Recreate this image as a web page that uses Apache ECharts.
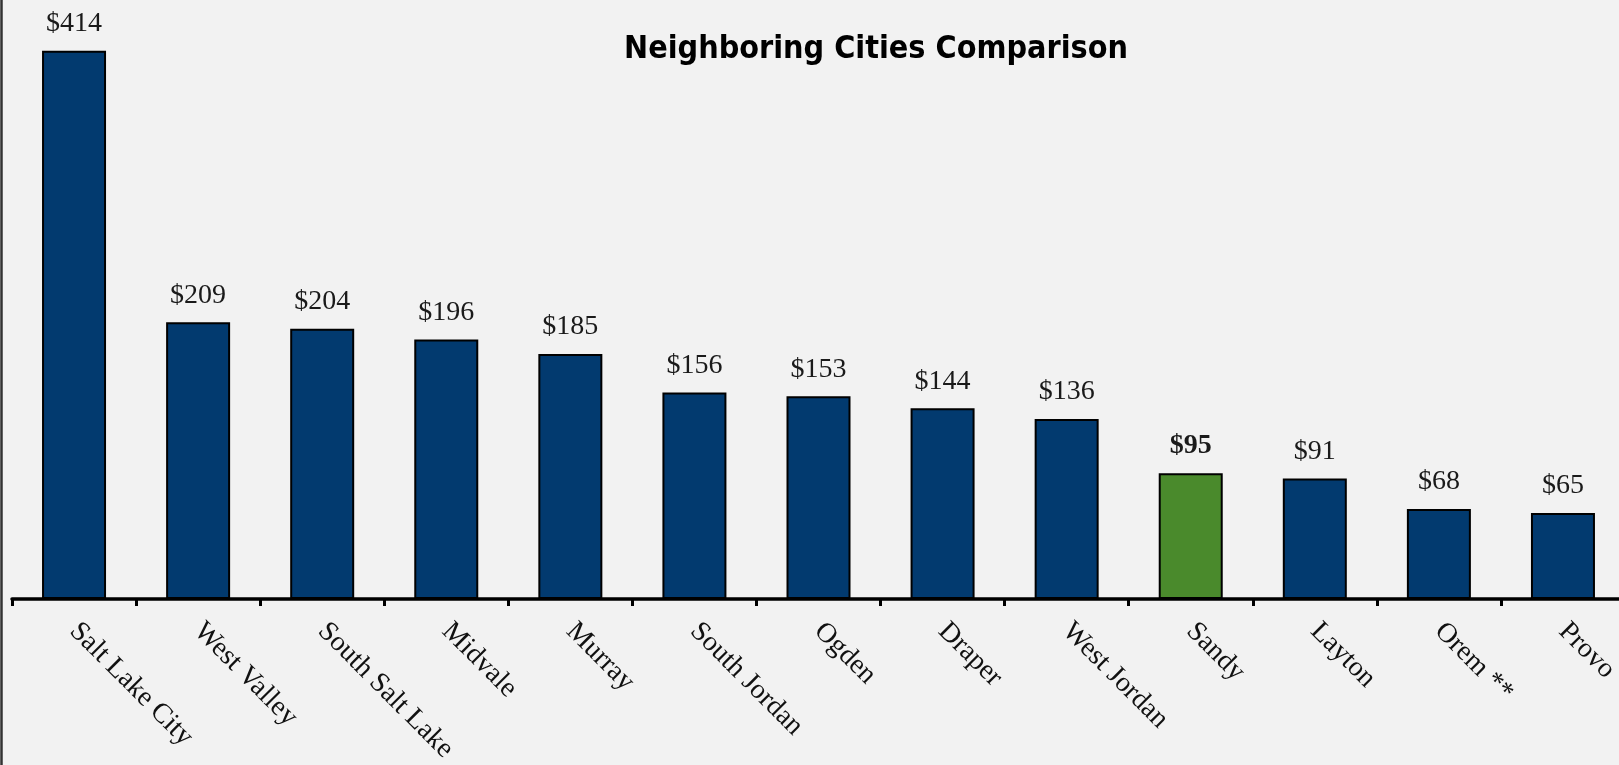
<!DOCTYPE html>
<html>
<head>
<meta charset="utf-8">
<title>Neighboring Cities Comparison</title>
<script src="https://cdn.jsdelivr.net/npm/echarts@6/dist/echarts.min.js"></script>
<style>
  html, body { margin: 0; padding: 0; background: #f2f2f2; }
  #chart { width: 1619px; height: 765px; }
</style>
</head>
<body>
<div id="chart"></div>
<script>
const cities = ['Salt Lake City', 'West Valley', 'South Salt Lake', 'Midvale', 'Murray',
  'South Jordan', 'Ogden', 'Draper', 'West Jordan', 'Sandy', 'Layton', 'Orem **', 'Provo']
const amounts = [414, 209, 204, 196, 185, 156, 153, 144, 136, 95, 91, 68, 65]
const highlightCity = 'Sandy'

const serif = "'Liberation Serif', 'DejaVu Serif', serif"

const chart = echarts.init(document.getElementById('chart'))

const barData = amounts.map((v, i) => {
  const isHome = cities[i] === highlightCity
  return {
    value: v,
    itemStyle: { color: isHome ? '#4a8a2c' : '#023a6f' },
    label: { fontWeight: isHome ? 'bold' : 'normal' }
  }
})

chart.setOption({
  backgroundColor: '#f2f2f2',
  title: {
    text: 'Neighboring Cities Comparison',
    left: 871,
    top: 29,
    textAlign: 'center',
    textStyle: {
      fontFamily: "'Liberation Sans Narrow', 'DejaVu Sans Condensed', sans-serif",
      fontWeight: 'bold',
      fontSize: 32,
      color: '#000'
    }
  },
  grid: { left: 12, width: 1613, top: 3, bottom: 166, outerBoundsMode: 'none', containLabel: false },
  xAxis: {
    type: 'category',
    data: cities,
    axisLine: { lineStyle: { color: '#000', width: 3.5 } },
    axisTick: { show: true, length: 7, lineStyle: { color: '#000', width: 3 } },
    axisLabel: {
      rotate: -45,
      margin: 28,
      interval: 0,
      fontFamily: serif,
      fontSize: 28,
      color: '#111'
    }
  },
  yAxis: { type: 'value', min: 0, max: 450, show: false },
  series: [{
    type: 'bar',
    data: barData,
    barWidth: 64,
    itemStyle: { borderColor: '#000', borderWidth: 2 },
    label: {
      show: true,
      position: 'top',
      distance: 13,
      formatter: p => '$' + p.value,
      fontFamily: serif,
      fontSize: 28,
      color: '#1a1a1a'
    }
  }],
  graphic: [{
    type: 'line',
    shape: { x1: 1.5, y1: 0, x2: 1.5, y2: 765 },
    style: { stroke: '#333', lineWidth: 2.5 }
  }]
})
</script>
</body>
</html>
